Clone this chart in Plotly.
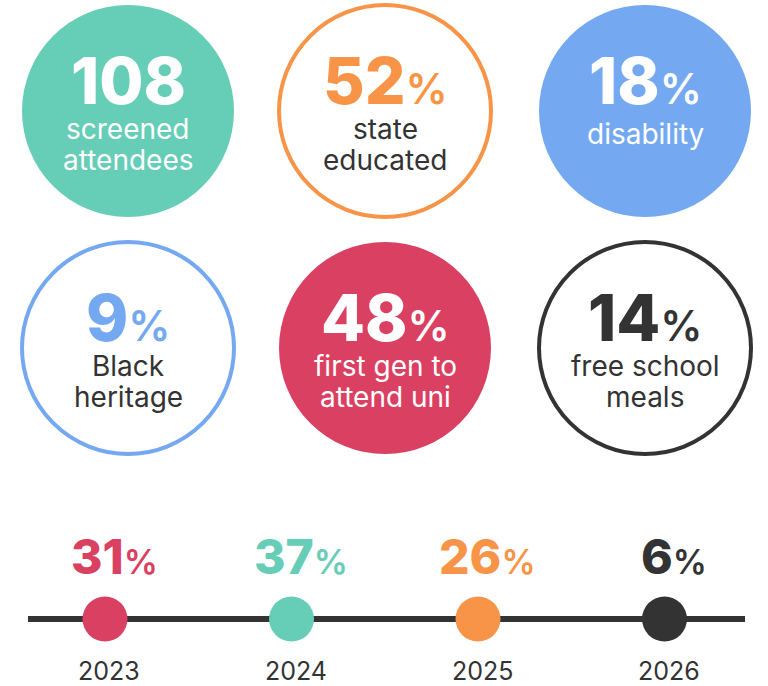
import plotly.graph_objects as go

# ---------------- data ----------------
stat_numbers = ["108", "52", "18", "9", "48", "14"]
stat_units = ["", "%", "%", "%", "%", "%"]
stat_labels = [
    ["screened", "attendees"],
    ["state", "educated"],
    ["disability"],
    ["Black", "heritage"],
    ["first gen to", "attend uni"],
    ["free school", "meals"],
]
stat_filled = [True, False, True, False, True, False]

years = ["2023", "2024", "2025", "2026"]
year_shares = [31, 37, 26, 6]

# ---------------- style ----------------
TEAL = "#66CDB6"
ORANGE = "#F79447"
BLUE = "#74A9F1"
RED = "#DA4062"
DARK = "#333333"
stat_colors = [TEAL, ORANGE, BLUE, BLUE, RED, DARK]
year_colors = [RED, TEAL, ORANGE, DARK]

FONT = "Inter, 'DejaVu Sans', sans-serif"
W, H = 768, 686
col_x = [128, 385, 645]
row_y = [111, 348]
R = 106

cx = [col_x[i % 3] for i in range(len(stat_numbers))]
cy = [row_y[i // 3] for i in range(len(stat_numbers))]

fig = go.Figure()

# stat circles
fig.add_trace(go.Scatter(
    x=cx, y=cy, mode="markers", cliponaxis=False, hoverinfo="skip",
    marker=dict(
        size=2 * R,
        color=[c if f else "white" for c, f in zip(stat_colors, stat_filled)],
        line=dict(color=stat_colors, width=[0 if f else 4 for f in stat_filled]),
        opacity=1,
    ),
    showlegend=False,
))

annotations = []
for i, (num, unit, lines) in enumerate(zip(stat_numbers, stat_units, stat_labels)):
    filled = stat_filled[i]
    num_color = "white" if filled else stat_colors[i]
    txt_color = "white" if filled else DARK
    t = num
    if unit:
        t += "<span style='font-size:42px;font-weight:600'>" + unit + "</span>"
    annotations.append(dict(
        x=cx[i], y=cy[i] - 31, text=t, showarrow=False, xanchor="center", yanchor="middle",
        font=dict(family=FONT, size=64, color=num_color, weight=800),
    ))
    if len(lines) == 1:
        offs = [23]
    else:
        offs = [18, 49]
    for ln, o in zip(lines, offs):
        annotations.append(dict(
            x=cx[i], y=cy[i] + o, text=ln, showarrow=False, xanchor="center", yanchor="middle",
            font=dict(family=FONT, size=28, color=txt_color, weight=400),
        ))

# timeline
tl_y = 619
tl_x0, tl_step = 105, 186.5
dot_x = [tl_x0 + k * tl_step for k in range(len(years))]
fig.add_trace(go.Scatter(
    x=[28, 745], y=[tl_y, tl_y], mode="lines", hoverinfo="skip",
    line=dict(color=DARK, width=6), showlegend=False,
))
fig.add_trace(go.Scatter(
    x=dot_x, y=[tl_y] * len(years), mode="markers", cliponaxis=False, hoverinfo="skip",
    marker=dict(size=45, color=year_colors, line=dict(width=0)), showlegend=False,
))
for k, (yr, sh) in enumerate(zip(years, year_shares)):
    annotations.append(dict(
        x=dot_x[k] + 9, y=556, showarrow=False, xanchor="center", yanchor="middle",
        text=f"{sh}<span style='font-size:34px;font-weight:600'>%</span>",
        font=dict(family=FONT, size=48, color=year_colors[k], weight=800),
    ))
    annotations.append(dict(
        x=dot_x[k] + 4, y=671, showarrow=False, xanchor="center", yanchor="middle",
        text=yr, font=dict(family=FONT, size=25, color=DARK, weight=400),
    ))

fig.update_layout(
    width=W, height=H, margin=dict(l=0, r=0, t=0, b=0),
    paper_bgcolor="white", plot_bgcolor="white",
    xaxis=dict(range=[0, W], visible=False, fixedrange=True),
    yaxis=dict(range=[H, 0], visible=False, fixedrange=True),
    annotations=annotations,
)
fig.write_html(
    "out.html",
    config={"displayModeBar": False},
    post_script="document.body.style.margin='0';document.body.style.overflow='hidden';",
)
